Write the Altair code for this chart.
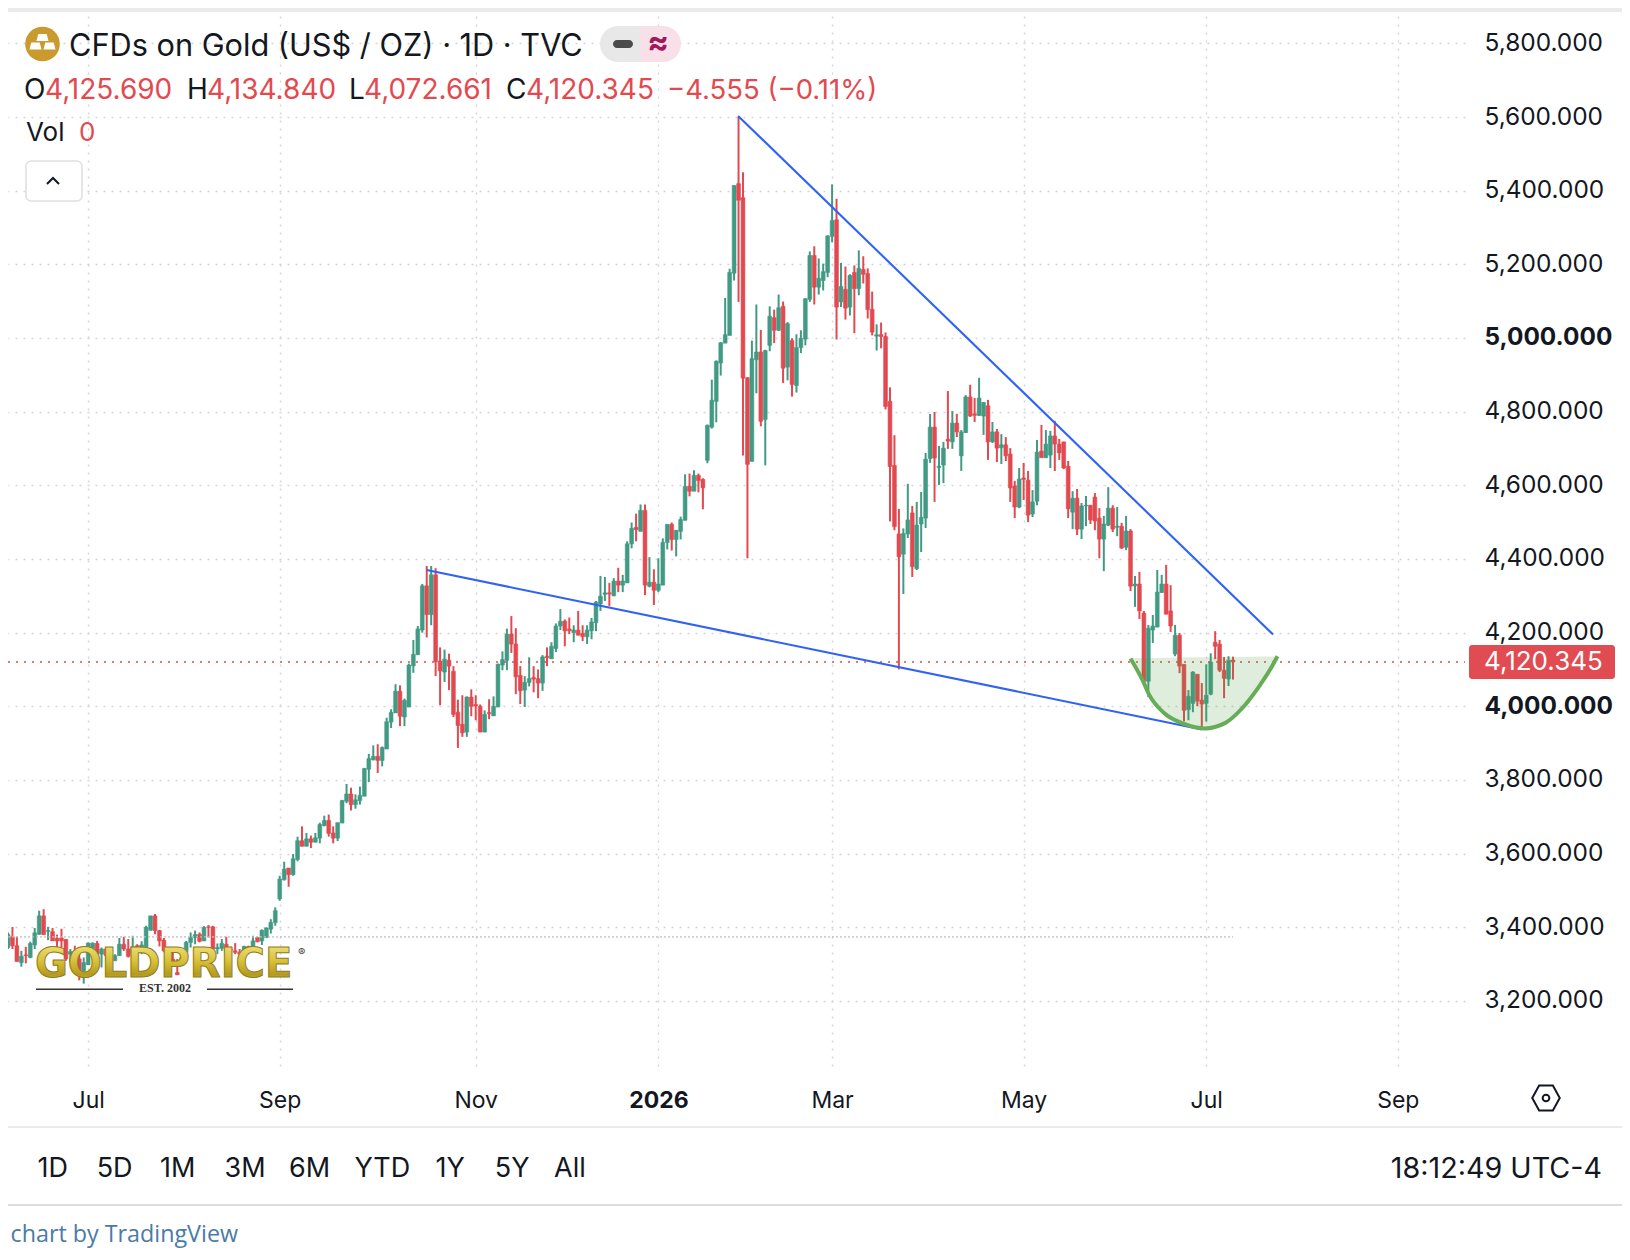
import altair as alt
import pandas as pd

opens = [3345,3374,3350,3304,3325,3318,3352,3381,3431,3389,3388,3370,3371,3367,3327,3332,3314,3282,3298,3332,3356,3327,3341,3295,3309,3323,3354,3341,3327,3350,3341,3347,3392,3431,3391,3365,3316,3314,3277,3304,3332,3359,3372,3381,3363,3401,3401,3341,3343,3354,3341,3336,3332,3332,3348,3336,3372,3363,3372,3395,3413,
3477,3529,3561,3543,3584,3635,3620,3640,3631,3642,
3676,3690,3656,3642,3683,3742,3762,3733,3744,3756,
3829,3855,3864,3853,3884,3957,3982,4041,3971,3998,
4110,4140,4207,4327,4249,4357,4123,4093,4125,4095,
3984,3951,3930,4025,4005,4000,3930,3983,3974,3998,
4112,4125,4196,4169,4084,4044,4065,4078,4075,4063,
4136,4129,4157,4218,4231,4210,4200,4207,4198,4189,
4205,4227,4278,4304,4308,4300,4340,4329,4335,4441,
4486,4475,4532,4326,4337,4315,4329,4445,4494,4453,
4475,4505,4597,4584,4627,4616,4668,4758,4828,4932,
4986,5007,5176,5419,5381,4892,4665,4941,4962,4779,
4980,5055,5021,5086,4921,4993,4871,4974,4997,5105,
5224,5138,5156,5178,5276,5321,5098,5132,5084,5178,
5134,5186,5175,5078,5005,5009,5004,4828,4654,4468,
4413,4468,4525,4374,4495,4511,4673,4758,4648,4655,
4725,4718,4769,4680,4743,4840,4794,4790,4788,4816,
4718,4745,4702,4710,4685,4598,4541,4620,4614,4522,
4557,4693,4675,4682,4734,4712,4718,4652,4527,4565,
4481,4544,4546,4568,4511,4454,4492,4538,4486,4489,
4432,4476,4327,4332,4253,4068,4207,4215,4309,4332,
4259,4142,4193,4114,3991,4008,4087,4017,4008,4033,
4174,4169,4098,4074,4125.69]

highs = [3386,3401,3374,3336,3347,3361,3398,3445,3449,3401,3398,3380,3396,3368,3341,3350,3327,3318,3359,3359,3363,3345,3345,3320,3327,3371,3374,3368,3377,3354,3362,3404,3431,3436,3393,3371,3341,3332,3314,3323,3363,3386,3391,3386,3403,3406,3404,3356,3368,3374,3347,3357,3341,3350,3350,3377,3374,3394,3400,3422,3454,
3540,3578,3561,3599,3646,3674,3656,3649,3656,3684,
3703,3706,3674,3684,3746,3789,3779,3761,3782,3833,
3871,3894,3897,3891,3969,3992,4060,4057,4021,4116,
4180,4218,4332,4381,4381,4375,4160,4154,4143,4109,
4018,4030,4027,4046,4030,4005,3989,4019,4027,4116,
4149,4211,4245,4212,4109,4082,4133,4109,4100,4139,
4160,4174,4225,4264,4236,4241,4220,4259,4220,4220,
4240,4286,4354,4351,4335,4348,4376,4357,4448,4499,
4523,4548,4548,4405,4372,4402,4456,4494,4499,4478,
4515,4630,4632,4641,4632,4619,4765,4887,4939,4989,
5109,5188,5414,5600,5450,4894,4993,5091,5022,4968,
5086,5077,5118,5099,5043,4999,5010,5021,5107,5235,
5249,5216,5202,5279,5417,5378,5204,5194,5173,5197,
5238,5222,5189,5126,5037,5042,5015,4866,4736,4536,
4483,4604,4544,4555,4582,4688,4794,4799,4707,4718,
4856,4802,4794,4750,4845,4873,4837,4892,4826,4832,
4772,4753,4739,4731,4701,4612,4647,4661,4639,4587,
4723,4764,4750,4748,4775,4726,4718,4666,4584,4590,
4552,4571,4546,4579,4538,4517,4595,4546,4541,4498,
4517,4481,4354,4365,4259,4221,4248,4370,4357,4384,
4329,4221,4199,4114,4044,4095,4087,4063,4114,4144,
4204,4180,4134,4136,4134.84]

lows = [3341,3341,3307,3293,3302,3316,3341,3380,3380,3365,3363,3341,3345,3309,3304,3309,3256,3247,3298,3327,3318,3291,3309,3295,3309,3323,3336,3318,3318,3318,3327,3341,3391,3381,3348,3332,3300,3300,3271,3302,3309,3345,3354,3359,3363,3372,3327,3327,3336,3327,3323,3327,3314,3323,3332,3336,3359,3352,3372,3383,3404,
3472,3527,3510,3540,3579,3620,3620,3615,3631,3628,
3674,3646,3628,3634,3683,3737,3717,3722,3733,3756,
3794,3853,3819,3837,3884,3941,3982,3946,3946,3998,
4091,4140,4200,4187,4220,4082,4003,4066,4044,3971,
3887,3917,3917,3973,3962,3930,3930,3965,3974,3998,
4098,4098,4145,4033,4006,3998,4054,4038,4022,4042,
4109,4129,4147,4207,4163,4196,4174,4193,4177,4169,
4182,4204,4259,4286,4272,4299,4310,4310,4335,4429,
4448,4475,4302,4323,4275,4310,4329,4426,4423,4407,
4453,4505,4570,4584,4581,4535,4660,4754,4771,4898,
4986,5007,5156,5098,4681,4402,4665,4850,4760,4654,
4964,4986,5019,4878,4885,4841,4852,4959,4980,5098,
5091,5118,5129,5165,5260,4996,5084,5050,5061,5013,
5116,5148,5053,5007,4966,4972,4806,4502,4478,4100,
4305,4457,4351,4370,4419,4484,4661,4555,4601,4606,
4699,4699,4731,4639,4742,4786,4772,4788,4737,4669,
4715,4663,4658,4666,4555,4511,4538,4560,4500,4514,
4546,4675,4674,4647,4639,4669,4644,4511,4481,4465,
4454,4489,4495,4478,4402,4367,4489,4473,4462,4427,
4424,4313,4270,4237,4068,4025,4172,4215,4308,4250,
4202,4136,4090,3959,3962,3984,4000,3943,3959,4030,
4128,4093,4022,4055,4072.661]

closes = [3381,3350,3307,3321,3323,3356,3385,3431,3380,3391,3363,3363,3363,3314,3334,3318,3282,3304,3357,3357,3329,3341,3323,3318,3323,3354,3341,3321,3347,3336,3352,3400,3431,3391,3363,3336,3309,3305,3271,3318,3359,3372,3380,3362,3400,3400,3341,3345,3356,3332,3338,3332,3327,3348,3334,3363,3361,3392,3398,3413,3445,
3531,3558,3543,3586,3635,3620,3640,3631,3643,3679,
3690,3655,3642,3684,3744,3762,3733,3746,3758,3831,
3858,3864,3853,3888,3958,3983,4041,3973,4016,4112,
4141,4210,4327,4249,4357,4121,4096,4128,4109,3978,
3948,3928,4025,4000,4001,3930,3978,3980,4000,4114,
4127,4196,4169,4080,4042,4065,4075,4074,4063,4134,
4132,4163,4218,4231,4205,4205,4207,4193,4189,4207,
4229,4283,4299,4308,4305,4340,4329,4340,4441,4483,
4480,4532,4329,4337,4315,4332,4445,4494,4453,4478,
4507,4597,4584,4627,4613,4593,4763,4831,4937,4987,
5009,5178,5414,5374,4891,4657,4944,4962,4774,4966,
5059,5021,5082,4918,5039,4874,4974,4999,5107,5224,
5138,5162,5180,5277,5319,5084,5140,5081,5170,5134,
5189,5173,5077,5016,5009,5004,4814,4651,4488,4406,
4469,4506,4379,4492,4513,4671,4758,4674,4652,4701,
4720,4769,4745,4745,4840,4788,4790,4837,4825,4718,
4745,4701,4710,4680,4593,4541,4617,4616,4519,4555,
4690,4675,4712,4734,4712,4688,4647,4536,4565,4481,
4544,4546,4506,4503,4454,4495,4538,4481,4489,4430,
4476,4326,4332,4259,4068,4212,4218,4310,4332,4250,
4218,4193,4109,3989,4027,4093,4014,4006,4030,4120,
4163,4098,4076,4125,4120.345]

price_ticks = [5800, 5600, 5400, 5200, 5000, 4800, 4600, 4400, 4200, 4000, 3800, 3600, 3400, 3200]
time_tick_bars = [18, 61, 105, 146, 185, 228, 269, 312]
time_tick_labels = ["Jul", "Sep", "Nov", "2026", "Mar", "May", "Jul", "Sep"]

support_bars = [94.0, 268.0]
support_prices = [4370, 3937]
resist_bars = [163.9, 284.0]
resist_prices = [5603, 4195]

cup_bars = [252.0, 254.7, 256.2, 259.6, 264.1, 268.6, 273.3, 277.0, 280.8, 283.5, 285.0]
cup_prices = [4130, 4071, 4031, 3981, 3952, 3940, 3955, 3994, 4053, 4103, 4136]
cup_rim = [4130, 4131, 4131, 4132, 4133, 4133, 4134, 4134, 4135, 4135, 4136]

last_price = 4120.345
avg_level = 3374

GREEN, RED = "#429A84", "#E24A50"
INK = "#131722"
UI = "Inter"

PX_PER_BAR = 4.4545
W, H = 1457, 1062  # plot area; page coordinates are these plus the 8px margin
x_scale = alt.Scale(domain=[0, W / PX_PER_BAR], nice=False, zero=False, padding=0)
y_scale = alt.Scale(domain=[3012.5, 5896], nice=False, zero=False, padding=0)

df = pd.DataFrame({"bar": range(len(opens)), "o": opens, "h": highs, "l": lows, "c": closes})
df["dir"] = ["up" if c >= o else "down" for o, c in zip(opens, closes)]
color = alt.Color("dir:N", scale=alt.Scale(domain=["up", "down"], range=[GREEN, RED]), legend=None)

label_map = "{" + ",".join(f"{b}:'{t}'" for b, t in zip(time_tick_bars, time_tick_labels)) + "}"
x_axis = alt.Axis(values=time_tick_bars, labelExpr=f"{label_map}[datum.value]", title=None, domain=False, ticks=False,
                  grid=True, gridDash=[2, 6], gridColor="#d4d4d4", gridWidth=1.4, labelFont=UI, labelFontSize=23,
                  labelColor=INK, labelPadding=19, labelOverlap=False, labelBound=False, labelFlush=False,
                  labelFontWeight=alt.expr("datum.value==146?'bold':'normal'"))
y_axis = alt.Axis(values=price_ticks, format=",.3f", orient="right", title=None, domain=False, ticks=False,
                  grid=True, gridDash=[2, 6], gridColor="#d4d4d4", gridWidth=1.4, labelFont=UI, labelFontSize=24.4,
                  labelColor=INK, labelPadding=19, labelAlign="left", labelOverlap=False, labelBound=False,
                  labelFlush=False, labelFontWeight=alt.expr("datum.value%1000==0?'bold':'normal'"))


def X(field="bar"):
    return alt.X(f"{field}:Q", scale=x_scale, axis=x_axis)


def Y(field):
    return alt.Y(f"{field}:Q", scale=y_scale, axis=y_axis)


def px(v):
    return alt.value(v - 8)


def one(**row):
    return alt.Chart(alt.Data(values=[row or {"k": 0}]))


def label(text, x, y, size=28, color=INK, weight="normal", align="left", font=UI, baseline="middle", **kw):
    return one(t=text).mark_text(fontSize=size, font=font, color=color, fontWeight=weight, align=align,
                                 baseline=baseline, **kw).encode(x=px(x), y=px(y), text="t:N")


def box(x0, x1, y0, y1, fill, radius=0, **kw):
    return one().mark_rect(color=fill, cornerRadius=radius, **kw).encode(x=px(x0), x2=px(x1), y=px(y0), y2=px(y1))


def glyph(shape, x, y, size, **kw):
    return one().mark_point(shape=shape, size=size, **kw).encode(x=px(x), y=px(y))


def level_rule(level, stroke, offset=0):
    d = pd.DataFrame({"p": [level], "a": [0], "b": [275]})
    return alt.Chart(d).mark_rule(color=stroke, strokeDash=[2, 6], strokeDashOffset=offset, strokeWidth=1.4).encode(
        x=X("a"), x2="b:Q", y=Y("p"))


wicks = alt.Chart(df).mark_rule(strokeWidth=2).encode(x=X(), y=Y("l"), y2="h:Q", color=color)
bodies = alt.Chart(df).mark_bar(size=3.8, orient="vertical", strokeWidth=0.6).encode(
    x=X(), y=Y("o"), y2="c:Q", color=color,
    stroke=alt.Stroke("dir:N", scale=alt.Scale(domain=["up", "down"], range=[GREEN, RED]), legend=None))

price_line = alt.Chart(pd.DataFrame({"p": [last_price]})).mark_rule(
    color=RED, strokeDash=[2, 6], strokeWidth=1.6).encode(x=alt.value(0), x2=alt.value(W), y=Y("p"))


def trend(bars, prices):
    return alt.Chart(pd.DataFrame({"bar": bars, "p": prices})).mark_line(color="#2f62f5", strokeWidth=2.1).encode(
        x=X(), y=Y("p"))


cup = pd.DataFrame({"bar": cup_bars, "p": cup_prices, "rim": cup_rim})
cup_fill = alt.Chart(cup).mark_area(color="#4f9e3f", opacity=0.18, interpolate="monotone").encode(
    x=X(), y=Y("p"), y2="rim:Q")
cup_line = alt.Chart(cup).mark_line(color="#67ad58", strokeWidth=4, interpolate="monotone").encode(x=X(), y=Y("p"))

chrome = [
    box(8, 1622, 8, 12, "#ebebeb"),
    box(8, 1622, 1126, 1128, "#ebebeb"),
    box(8, 1622, 1204, 1206, "#dcdcdc"),
]

gold = alt.LinearGradient(gradient="linear", x1=0, y1=0, x2=0, y2=1, stops=[
    alt.GradientStop(offset=0, color="#f4e88a"),
    alt.GradientStop(offset=0.45, color="#d9c13a"),
    alt.GradientStop(offset=0.75, color="#b59a20"),
    alt.GradientStop(offset=1, color="#e6d565"),
])

logo = [
    one(t="GOLDPRICE").mark_text(font="DejaVu Sans", fontSize=40, fontWeight="bold", fill=gold, stroke="#8f7d1f",
                                 strokeWidth=1.0, align="left", baseline="alphabetic").encode(
        x=px(35), y=px(977), text="t:N"),
    label("®", 298, 953, size=11, color="#444"),
    label("EST. 2002", 165, 988, size=12, color="#333", align="center", font="Liberation Serif", weight="bold"),
    box(36, 123, 988.5, 990, "#333"),
    box(207, 293, 988.5, 990, "#333"),
]

header = [
    one().mark_circle(color="#c99a2e", size=1200, opacity=1).encode(x=px(42.5), y=px(44)),
    glyph("M-1,.6L-.7,-.6L.7,-.6L1,.6Z", 42.5, 37.5, 144, filled=True, color="#ffffff", opacity=1),
    glyph("M-1,.6L-.7,-.6L.7,-.6L1,.6Z", 35.5, 46, 144, filled=True, color="#ffffff", opacity=1),
    glyph("M-1,.6L-.7,-.6L.7,-.6L1,.6Z", 49.5, 46, 144, filled=True, color="#ffffff", opacity=1),
    label("CFDs on Gold (US$ / OZ) · 1D · TVC", 69, 47, size=30.7),
    box(600, 650, 26, 62, "#e8e8e8", radius=18),
    box(632, 681, 26, 62, "#f8e0e8", radius=18),
    box(620, 640, 26, 62, "#e8e8e8"),
    box(640, 660, 26, 62, "#f8e0e8"),
    box(613, 633, 40, 48, "#4a4a4a", radius=4),
    label("≈", 658, 43, size=32, color="#a2185c", align="center", weight="bold"),
    label("O", 24, 91),
    label("4,125.690", 45, 91, color=RED),
    label("H", 187, 91),
    label("4,134.840", 207, 91, color=RED),
    label("L", 349, 91),
    label("4,072.661", 364, 91, color=RED),
    label("C", 506, 91),
    label("4,120.345", 526, 91, color=RED),
    label("−4.555 (−0.11%)", 667, 91, size=27.5, color=RED),
    label("Vol", 26, 133, size=26),
    label("0", 79, 133, size=26, color=RED),
    box(26, 82, 161, 201, "#ffffff", radius=5, stroke="#e0e0e0", strokeWidth=1.6),
    glyph("M-1,.5L0,-.5L1,.5", 53, 181, 144, filled=False, color=INK, strokeWidth=2, opacity=1),
]

tag = [
    box(1469, 1615, 645, 679, "#E14B52", radius=3),
    label("4,120.345", 1484, 662, size=26, color="#ffffff"),
]

footer = [
    glyph("M-.55,-1L.55,-1L1.1,0L.55,1L-.55,1L-1.1,0Z", 1546, 1098, 625, filled=False, color=INK, strokeWidth=2, opacity=1),
    glyph("circle", 1546, 1098, 45, filled=False, color=INK, strokeWidth=2, opacity=1),
    label("18:12:49 UTC-4", 1602, 1169, size=28.7, align="right"),
    label("chart by TradingView", 10.5, 1235, size=23.3, color="#4a7ba6", font="Open Sans"),
]
for t, x in zip(["1D", "5D", "1M", "3M", "6M", "YTD", "1Y", "5Y", "All"],
                [37.4, 96.7, 160, 224.5, 289, 354.5, 435.6, 494.8, 554]):
    footer.append(label(t, x, 1169, size=27))

layers = [
    wicks, bodies,
    level_rule(avg_level, "#8fd0c6"), level_rule(avg_level, "#f0aaa8", offset=4),
    price_line,
    cup_fill,
    trend(support_bars, support_prices), trend(resist_bars, resist_prices),
    cup_line,
    *logo, *chrome, *header, *tag, *footer,
]

chart = alt.layer(*layers).properties(
    width=W, height=H,
    padding={"left": 0, "top": 0, "right": 1614 - W, "bottom": 1244 - H},
    autosize=alt.AutoSizeParams(type="none", contains="content"),
    background="#ffffff",
).configure_view(stroke=None)

chart.save("out.html", embed_options={"renderer": "svg", "actions": False})
